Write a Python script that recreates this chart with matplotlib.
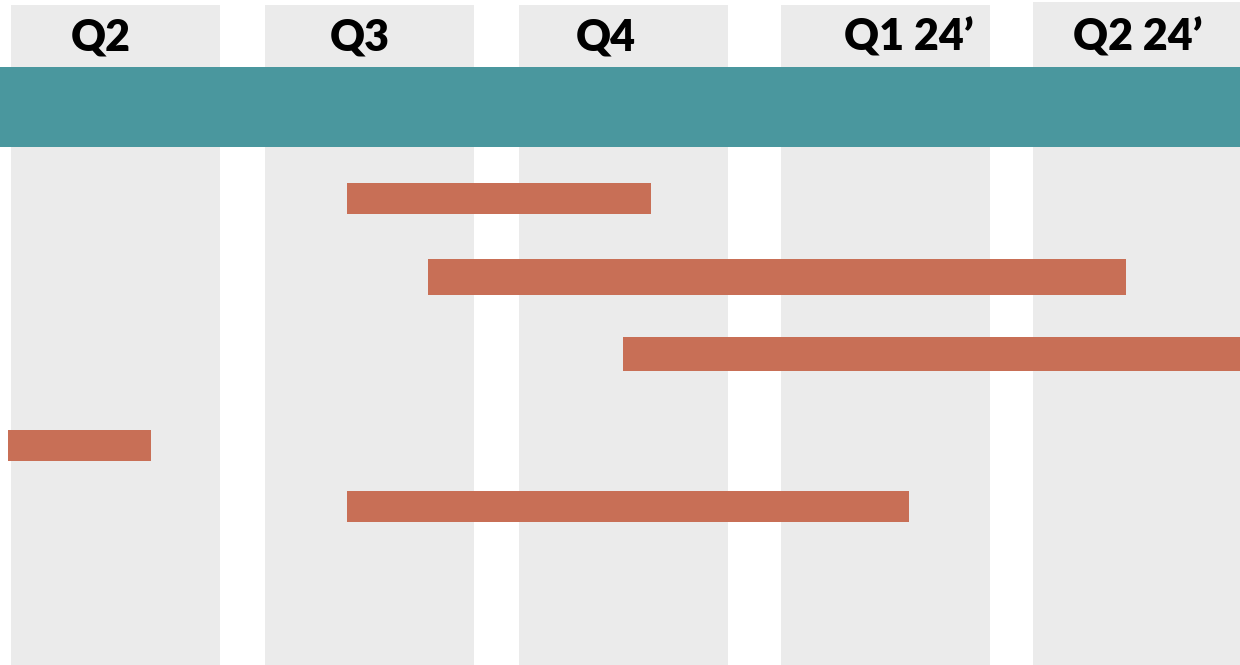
import matplotlib
matplotlib.use("Agg")
import matplotlib.pyplot as plt

# Quarter columns (pixel-like timeline units)
quarters = ["Q2", "Q3", "Q4", "Q1 24\u2019", "Q2 24\u2019"]
col_start = [11, 265, 519, 781, 1033]
col_end = [220, 474, 728, 990, 1240]
col_top = [5, 5, 5, 5, 2]
label_x = [101, 360, 606, 909, 1138]

# Task bars: start, end (timeline units), and row extents
task_start = [347, 428, 623, 8, 347]
task_end = [651, 1126, 1240, 151, 909]
task_top = [183, 259, 337, 430, 491]
task_bottom = [214, 295, 371, 461, 522]

W, H = 1240, 665
fig = plt.figure(figsize=(W / 100, H / 100), dpi=100)
ax = fig.add_axes([0, 0, 1, 1])
ax.set_xlim(0, W)
ax.set_ylim(H, 0)
ax.axis("off")

for s, e, t in zip(col_start, col_end, col_top):
    ax.add_patch(plt.Rectangle((s, t), e - s, H - t, facecolor="#EBEBEB", edgecolor="none", zorder=1))

ax.add_patch(plt.Rectangle((0, 67), W, 80, facecolor="#4A979E", edgecolor="none", zorder=2))

for s, e, t, b in zip(task_start, task_end, task_top, task_bottom):
    ax.add_patch(plt.Rectangle((s, t), e - s, b - t, facecolor="#C86F56", edgecolor="none", zorder=3))

for lab, x in zip(quarters, label_x):
    ax.text(x, 38, lab, ha="center", va="center", fontsize=31, fontweight="heavy",
            family=["Lato", "DejaVu Sans"], color="black", zorder=4)

fig.savefig("out.png", dpi=100)
